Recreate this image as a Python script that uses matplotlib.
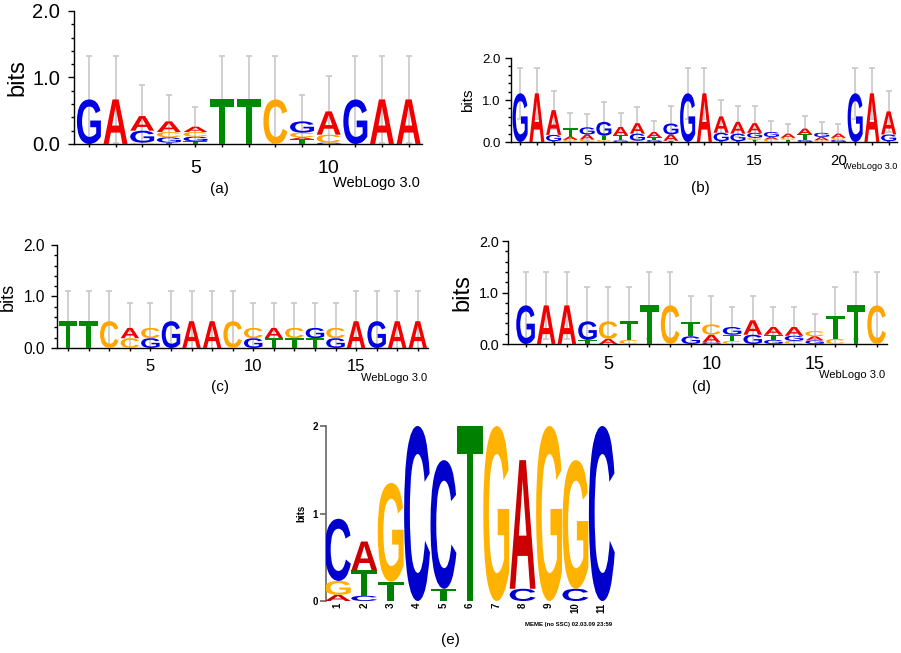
import matplotlib
matplotlib.use("Agg")
import matplotlib.pyplot as plt
from matplotlib.textpath import TextPath
from matplotlib.patches import PathPatch
from matplotlib.transforms import Affine2D
from matplotlib.font_manager import FontProperties
from matplotlib.ticker import MultipleLocator, FixedLocator

plt.rcParams['font.family'] = ['Liberation Sans', 'DejaVu Sans']

# stacks from bottom to top: (letter, bits)
logo_a = [[("G", .67)], [("A", .67)],
          [("C", .02), ("G", .18), ("A", .22)],
          [("T", .02), ("G", .08), ("C", .08), ("A", .16)],
          [("T", .04), ("G", .07), ("C", .07), ("A", .08)],
          [("T", .67)], [("T", .67)], [("C", .67)],
          [("T", .07), ("A", .03), ("C", .07), ("G", .17)],
          [("G", .02), ("C", .12), ("A", .35)],
          [("G", .67)], [("A", .67)], [("A", .67)]]
err_a = [.66, .66, .46, .39, .30, .66, .66, .66, .40, .53, .66, .66, .66]

logo_b = [[("G", 1.16)], [("A", 1.16)],
          [("T", .02), ("G", .15), ("A", .59)],
          [("C", .05), ("A", .08), ("T", .20)],
          [("C", .06), ("A", .12), ("G", .17)],
          [("C", .05), ("T", .10), ("G", .33)],
          [("G", .04), ("T", .12), ("A", .20)],
          [("C", .03), ("G", .17), ("A", .25)],
          [("G", .05), ("T", .06), ("A", .13)],
          [("T", .03), ("A", .15), ("G", .26)],
          [("G", 1.16)], [("A", 1.16)],
          [("T", .02), ("G", .20), ("A", .39)],
          [("T", .02), ("G", .18), ("A", .28)],
          [("T", .05), ("C", .05), ("G", .12), ("A", .23)],
          [("C", .06), ("A", .06), ("G", .12)],
          [("T", .05), ("C", .05), ("A", .10)],
          [("G", .05), ("T", .13), ("A", .14)],
          [("C", .04), ("A", .08), ("G", .10)],
          [("G", .05), ("C", .05), ("A", .10)],
          [("G", 1.16)], [("A", 1.16)],
          [("T", .02), ("G", .16), ("A", .55)]]
err_b = [.60, .60, .45, .36, .32, .47, .32, .38, .26, .41, .60, .60,
         .40, .37, .40, .26, .24, .30, .26, .24, .60, .60, .49]

logo_c = [[("T", .52)], [("T", .52)], [("C", .52)],
          [("C", .19), ("A", .20)], [("G", .19), ("C", .20)],
          [("G", .52)], [("A", .52)], [("A", .52)], [("C", .52)],
          [("G", .19), ("C", .20)], [("T", .19), ("A", .20)],
          [("T", .19), ("C", .20)], [("T", .19), ("G", .20)],
          [("G", .19), ("C", .20)],
          [("A", .52)], [("G", .52)], [("A", .52)], [("A", .52)]]
err_c = [.59, .59, .59, .49, .49, .59, .59, .59, .59,
         .49, .49, .49, .49, .49, .59, .59, .59, .59]

logo_d = [[("G", .75)], [("A", .75)], [("A", .75)],
          [("T", .08), ("G", .36)], [("A", .10), ("C", .34)],
          [("C", .08), ("T", .36)], [("T", .75)], [("C", .75)],
          [("G", .15), ("T", .28)],
          [("G", .03), ("A", .15), ("C", .20)],
          [("C", .06), ("T", .12), ("G", .15)],
          [("G", .18), ("A", .28)],
          [("G", .08), ("T", .10), ("A", .15)],
          [("C", .06), ("G", .10), ("A", .17)],
          [("G", .07), ("A", .08), ("C", .10)],
          [("C", .10), ("T", .45)], [("T", .75)], [("C", .75)]]
err_d = [.65, .65, .65, .67, .67, .67, .65, .65, .51, .56,
         .39, .48, .39, .39, .34, .56, .65, .65]

logo_e = [[("A", .07), ("G", .16), ("C", .71)],
          [("C", .06), ("T", .29), ("A", .33)],
          [("T", .22), ("G", 1.13)], [("C", 2.0)],
          [("T", .14), ("C", 1.47)], [("T", 2.0)], [("G", 2.0)],
          [("C", .14), ("A", 1.47)], [("G", 2.0)],
          [("C", .14), ("G", 1.47)], [("C", 2.0)]]

web_colors = {"A": "#f20000", "C": "#ffa500", "G": "#0000e6", "T": "#008a00"}
meme_colors = {"A": "#cc0000", "C": "#0000cc", "G": "#ffb300", "T": "#008000"}

FONT = FontProperties(family="Liberation Sans", weight="bold")
glyphs = {}


def draw_letter(ax, ch, x, y0, h, w, color):
    if ch not in glyphs:
        glyphs[ch] = TextPath((0, 0), ch, size=1, prop=FONT)
    p = glyphs[ch]
    ext = p.get_extents()
    tr = Affine2D().translate(-ext.x0, -ext.y0).scale(w / ext.width, h / ext.height).translate(x - w / 2, y0)
    ax.add_patch(PathPatch(tr.transform_path(p), fc=color, ec="none", lw=0, zorder=3))


def draw_logo(ax, logo, colors, w):
    tops = []
    for i, stack in enumerate(logo):
        y = 0
        for ch, h in stack:
            draw_letter(ax, ch, i + 1, y, h, w, colors[ch])
            y += h
        tops.append(y)
    return tops


fig = plt.figure(figsize=(9.01, 6.53), dpi=100)

# WebLogo panels: rect, logo, err, xlim, font sizes
panels = [
    ([0.0821, 0.7795, 0.3862, 0.2037], logo_a, err_a, (0.44, 13.5), 14.5, 14, 17, 3, 6, 9),
    ([0.5672, 0.7825, 0.4284, 0.1286], logo_b, err_b, (0.46, 23.5), 9.5, 10.8, 11, 5, 3.5, 6),
    ([0.0633, 0.4671, 0.4118, 0.1577], logo_c, err_c, (0.46, 18.5), 11.2, 12, 13, 5, 4.5, 5.5),
    ([0.5638, 0.4732, 0.4206, 0.1577], logo_d, err_d, (0.15, 18.5), 10.4, 13, 17, 4, 2.5, 6),
]

for rect, logo, err, xlim, yfs, xfs, bfs, lpad, ypad, xpad in panels:
    ax = fig.add_axes(rect)
    tops = draw_logo(ax, logo, web_colors, 0.9)
    pos = list(range(1, len(logo) + 1))
    ax.errorbar(pos, tops, yerr=err, fmt="none", ecolor="#c8c8c8",
                elinewidth=1.2, capsize=2, capthick=1.2, zorder=1)
    ax.set_xlim(*xlim)
    ax.set_ylim(0, 2.0)
    for s in ["top", "right"]:
        ax.spines[s].set_visible(False)
    for s in ["left", "bottom"]:
        ax.spines[s].set_linewidth(1.0)
    ax.xaxis.set_major_locator(MultipleLocator(5))
    ax.xaxis.set_minor_locator(MultipleLocator(1))
    ax.yaxis.set_major_locator(MultipleLocator(1.0))
    ax.yaxis.set_minor_locator(MultipleLocator(0.2))
    ax.set_yticks([0, 1, 2])
    ax.set_yticklabels(["0.0", "1.0", "2.0"])
    ax.tick_params(axis="y", which="major", length=4, width=1, labelsize=yfs, pad=ypad)
    ax.tick_params(axis="y", which="minor", length=2.5, width=1)
    ax.tick_params(axis="x", which="both", length=2.5, width=1, labelsize=xfs, pad=xpad)
    ax.set_ylabel("bits", fontsize=bfs, labelpad=lpad)

fig.text(0.244, 0.7106, "(a)", fontsize=11, ha="center", va="center")
fig.text(0.466, 0.7198, "WebLogo 3.0", fontsize=10.5, ha="right", va="center")
fig.text(0.777, 0.712, "(b)", fontsize=11, ha="center", va="center")
fig.text(0.9956, 0.7443, "WebLogo 3.0", fontsize=6.6, ha="right", va="center")
fig.text(0.244, 0.4074, "(c)", fontsize=11, ha="center", va="center")
fig.text(0.474, 0.4211, "WebLogo 3.0", fontsize=8, ha="right", va="center")
fig.text(0.779, 0.4074, "(d)", fontsize=11, ha="center", va="center")
fig.text(0.982, 0.4257, "WebLogo 3.0", fontsize=8, ha="right", va="center")

# MEME panel
ax = fig.add_axes([0.3618, 0.0796, 0.3208, 0.268])
draw_logo(ax, logo_e, meme_colors, 0.98)
ax.set_xlim(0.55, 11.5)
ax.set_ylim(0, 2.0)
for s in ["top", "right", "bottom"]:
    ax.spines[s].set_visible(False)
ax.spines["left"].set_color("#666666")
ax.spines["left"].set_linewidth(1.2)
ax.set_yticks([0, 1, 2])
ax.set_yticklabels(["0", "1", "2"], fontweight="bold")
ax.tick_params(axis="y", length=4, width=1.2, color="#666666", labelsize=7, pad=2)
ax.set_xticks(range(1, len(logo_e) + 1))
ax.set_xticklabels([str(i) for i in range(1, len(logo_e) + 1)], rotation=90,
                   fontweight="bold", fontsize=7)
ax.tick_params(axis="x", length=0, pad=1)
ax.set_ylabel("bits", fontsize=7, fontweight="bold", labelpad=4)
fig.text(0.6315, 0.0429, "MEME (no SSC) 02.03.09 23:59", fontsize=4.3,
         fontweight="bold", ha="center", va="center")
fig.text(0.4994, 0.0199, "(e)", fontsize=11, ha="center", va="center")

fig.savefig("out.png", dpi=100)
